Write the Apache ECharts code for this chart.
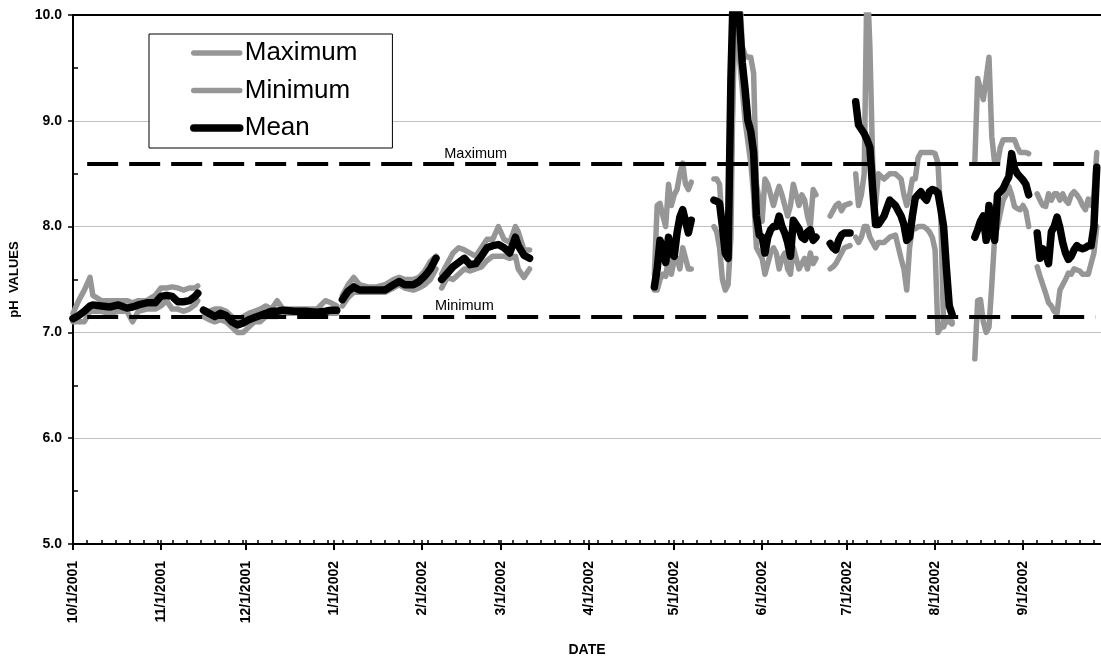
<!DOCTYPE html>
<html><head><meta charset="utf-8">
<script src="https://cdn.jsdelivr.net/npm/echarts@6/dist/echarts.min.js"></script>
<style>html,body{margin:0;padding:0;background:#fff}#c{width:1101px;height:663px}</style>
</head><body><div id="c"></div>
<script>
// ---------------- DATA ----------------
const dates = [
  // Oct-Nov 2001
  '2001-10-01','2001-10-03','2001-10-05','2001-10-07','2001-10-08','2001-10-11','2001-10-14','2001-10-17','2001-10-20','2001-10-22','2001-10-24','2001-10-27','2001-10-30','2001-11-01','2001-11-03','2001-11-05','2001-11-07','2001-11-09','2001-11-11','2001-11-13','2001-11-14','2001-11-15',
  // Nov-Dec 2001
  '2001-11-16','2001-11-18','2001-11-20','2001-11-22','2001-11-24','2001-11-26','2001-11-28','2001-11-30','2001-12-02','2001-12-04','2001-12-06','2001-12-08','2001-12-10','2001-12-12','2001-12-14','2001-12-18','2001-12-22','2001-12-26','2001-12-29','2001-12-31','2002-01-02','2002-01-03',
  // Jan-Feb 2002
  '2002-01-04','2002-01-06','2002-01-08','2002-01-10','2002-01-13','2002-01-16','2002-01-19','2002-01-22','2002-01-24','2002-01-26','2002-01-29','2002-01-31','2002-02-02','2002-02-04','2002-02-06','2002-02-07',
  // Feb-Mar 2002
  '2002-02-08','2002-02-10','2002-02-12','2002-02-14','2002-02-16','2002-02-18','2002-02-20','2002-02-22','2002-02-24','2002-02-26','2002-02-28','2002-03-02','2002-03-04','2002-03-06','2002-03-07','2002-03-09','2002-03-11','2002-03-12',
  // Apr-May 2002
  '2002-04-24','2002-04-25','2002-04-26','2002-04-27','2002-04-28','2002-04-29','2002-04-30','2002-05-01','2002-05-02','2002-05-03','2002-05-04','2002-05-05','2002-05-06','2002-05-07','2002-05-08',
  // May-Jun 2002
  '2002-05-15','2002-05-16','2002-05-17','2002-05-18','2002-05-19','2002-05-20','2002-05-21','2002-05-22','2002-05-23','2002-05-24','2002-05-25','2002-05-26','2002-05-27','2002-05-28','2002-05-29','2002-05-30','2002-05-31','2002-06-01','2002-06-02','2002-06-03','2002-06-04','2002-06-05','2002-06-06','2002-06-07','2002-06-08','2002-06-09','2002-06-10','2002-06-11','2002-06-12','2002-06-13','2002-06-14','2002-06-15','2002-06-16','2002-06-17','2002-06-18','2002-06-19','2002-06-20','2002-06-21',
  // Jun-Jul 2002
  '2002-06-25','2002-06-26','2002-06-27','2002-06-28','2002-06-29','2002-06-30','2002-07-02','2002-07-03',
  // Jul-Aug 2002
  '2002-07-04','2002-07-05','2002-07-06','2002-07-07','2002-07-08','2002-07-09','2002-07-10','2002-07-11','2002-07-12','2002-07-14','2002-07-16','2002-07-18','2002-07-20','2002-07-21','2002-07-22','2002-07-23','2002-07-24','2002-07-25','2002-07-26','2002-07-27','2002-07-28','2002-07-29','2002-07-30','2002-07-31','2002-08-01','2002-08-02','2002-08-03','2002-08-04','2002-08-05','2002-08-06','2002-08-07','2002-08-08',
  // Aug-Sep 2002
  '2002-08-15','2002-08-16','2002-08-17','2002-08-18','2002-08-19','2002-08-20','2002-08-21','2002-08-22','2002-08-23','2002-08-24','2002-08-25','2002-08-26','2002-08-27','2002-08-28','2002-08-29','2002-08-30','2002-08-31','2002-09-01','2002-09-02','2002-09-03','2002-09-04',
  // Sep 2002
  '2002-09-06','2002-09-07','2002-09-08','2002-09-09','2002-09-10','2002-09-11','2002-09-12','2002-09-13','2002-09-14','2002-09-15','2002-09-16','2002-09-17','2002-09-18','2002-09-19','2002-09-20','2002-09-21','2002-09-22','2002-09-23','2002-09-24','2002-09-25','2002-09-26','2002-09-27'
];
const maxValues = [
  7.18,7.30,7.40,7.52,7.35,7.30,7.30,7.30,7.30,7.28,7.30,7.30,7.35,7.42,7.42,7.43,7.42,7.40,7.42,7.42,7.44,null,
  7.22,7.20,7.22,7.22,7.20,7.15,7.12,7.15,7.18,7.20,7.22,7.25,7.22,7.30,7.22,7.22,7.22,7.22,7.30,7.28,7.25,null,
  7.35,7.45,7.52,7.45,7.43,7.43,7.45,7.50,7.52,7.50,7.50,7.52,7.58,7.67,7.72,null,
  7.55,7.65,7.75,7.80,7.78,7.75,7.72,7.80,7.88,7.88,8.00,7.88,7.85,8.00,7.95,7.78,7.78,null,
  7.55,8.20,8.22,8.10,8.00,8.40,8.20,8.30,8.35,8.50,8.60,8.40,8.35,8.42,null,
  8.45,8.45,8.40,8.00,7.80,7.90,8.50,9.50,10.30,10.30,9.70,9.62,9.60,9.60,9.45,8.40,8.25,8.05,8.45,8.40,8.30,8.20,8.30,8.38,8.30,8.20,8.10,8.20,8.40,8.30,8.20,8.30,8.25,8.10,8.00,8.35,8.30,null,
  8.10,8.15,8.20,8.22,8.15,8.20,8.22,null,
  8.50,8.20,8.30,8.50,10.40,9.70,8.60,8.20,8.50,8.45,8.50,8.50,8.45,8.30,8.20,8.30,8.45,8.45,8.65,8.70,8.70,8.70,8.70,8.70,8.69,8.60,8.10,7.05,7.12,7.12,7.10,null,
  8.60,9.40,9.30,9.20,9.40,9.60,8.85,8.60,8.60,8.75,8.82,8.82,8.82,8.82,8.82,8.75,8.70,8.70,8.70,8.69,null,
  8.31,8.25,8.20,8.19,8.31,8.25,8.31,8.31,8.25,8.31,8.25,8.22,8.30,8.33,8.30,8.26,8.20,8.16,8.26,8.20,8.30,8.70
];
const minValues = [
  7.10,7.10,7.10,7.20,7.20,7.20,7.18,7.20,7.20,7.10,7.20,7.22,7.22,7.25,7.30,7.22,7.22,7.20,7.22,7.26,7.30,null,
  7.15,7.12,7.10,7.12,7.10,7.05,7.00,7.00,7.05,7.10,7.10,7.15,7.15,7.15,7.18,7.18,7.18,7.17,7.18,7.18,7.18,null,
  7.25,7.33,7.38,7.38,7.38,7.38,7.38,7.42,7.45,7.42,7.40,7.42,7.45,7.50,7.60,null,
  7.42,7.52,7.50,7.55,7.60,7.58,7.60,7.62,7.68,7.72,7.72,7.72,7.70,7.72,7.60,7.52,7.60,null,
  7.40,7.40,7.50,7.55,7.53,7.70,7.55,7.69,7.70,7.60,7.80,7.70,7.60,7.60,null,
  8.00,7.95,7.80,7.50,7.40,7.45,7.90,9.90,10.10,9.60,9.30,9.00,8.80,8.60,8.30,7.80,7.75,7.70,7.55,7.65,7.75,7.80,7.75,7.60,7.70,7.75,7.60,7.55,7.80,7.70,7.60,7.65,7.70,7.60,7.75,7.65,7.70,null,
  7.60,7.62,7.65,7.70,7.75,7.80,7.82,null,
  7.90,7.85,7.90,8.00,8.00,7.90,7.85,7.80,7.85,7.85,7.90,7.92,7.70,7.60,7.40,7.80,8.00,7.98,8.00,8.00,8.00,7.98,7.95,7.90,7.78,7.00,7.05,7.10,7.10,7.10,7.08,null,
  6.75,7.30,7.31,7.10,7.00,7.05,7.45,7.90,8.00,8.13,8.25,8.30,8.38,8.30,8.19,8.17,8.16,8.20,8.15,8.00,null,
  7.62,7.53,7.45,7.37,7.28,7.25,7.20,7.18,7.40,7.45,7.50,7.56,7.55,7.60,7.59,7.58,7.55,7.55,7.55,7.65,7.75,8.00
];
const meanValues = [
  7.13,7.16,7.20,7.25,7.26,7.25,7.24,7.26,7.23,7.24,7.26,7.28,7.28,7.34,7.35,7.34,7.29,7.29,7.30,7.34,7.37,null,
  7.21,7.18,7.15,7.18,7.16,7.10,7.07,7.09,7.12,7.14,7.16,7.18,7.20,7.20,7.21,7.20,7.20,7.19,7.20,7.21,7.21,null,
  7.31,7.39,7.43,7.40,7.40,7.40,7.40,7.45,7.48,7.45,7.45,7.48,7.53,7.60,7.70,null,
  7.50,7.56,7.62,7.66,7.70,7.64,7.65,7.72,7.80,7.82,7.83,7.80,7.75,7.90,7.82,7.73,7.70,null,
  7.43,7.60,7.87,7.80,7.66,7.90,7.75,7.72,7.94,8.09,8.16,8.05,7.94,8.06,null,
  8.25,8.24,8.22,8.00,7.75,7.70,9.40,10.40,10.40,9.95,9.55,9.30,9.00,8.90,8.70,8.10,7.92,7.90,7.75,7.90,7.97,8.00,8.00,8.10,8.00,7.94,7.85,7.72,8.06,8.02,7.98,7.90,7.88,7.95,7.97,7.87,7.90,null,
  7.84,7.80,7.78,7.87,7.92,7.94,7.94,null,
  9.18,8.96,8.92,8.88,8.82,8.75,8.35,8.02,8.02,8.10,8.25,8.20,8.10,8.02,7.87,7.90,8.10,8.27,8.30,8.33,8.28,8.25,8.33,8.35,8.34,8.32,8.17,8.00,7.60,7.25,7.17,null,
  7.90,7.97,8.05,8.10,7.87,8.20,7.95,7.87,8.30,8.33,8.36,8.42,8.47,8.69,8.55,8.50,8.47,8.44,8.40,8.30,null,
  7.94,7.70,7.79,7.75,7.65,7.95,8.00,8.09,7.99,7.85,7.75,7.69,7.72,7.78,7.82,7.80,7.79,7.80,7.82,7.82,8.00,8.56
];
const seriesNames = ['Maximum','Minimum','Mean'];
const limitValues = [8.59, 7.15];
const limitNames = ['Maximum','Minimum'];
const limitSpan = ['2001-10-06','2002-09-26T12:00'];
const limitLabelDates = ['2002-02-20','2002-02-16'];
const monthTicks = ['2001-10-01','2001-11-01','2001-12-01','2002-01-01','2002-02-01','2002-03-01','2002-04-01','2002-05-01','2002-06-01','2002-07-01','2002-08-01','2002-09-01'];
const axisRange = ['2001-10-01','2002-09-28T12:00'];

// ---------------- HELPERS ----------------
function ts(s){ return Date.parse(s.length === 10 ? s + 'T00:00:00Z' : s + ':00Z'); }
function fmt(v){ const d = new Date(v); return (d.getUTCMonth()+1) + '/' + d.getUTCDate() + '/' + d.getUTCFullYear(); }
function pairs(vals){ return dates.map((d,i)=>[ts(d), vals[i]]); }
const DAY = 86400000;
const tickTimes = monthTicks.map(ts);
const spanDays = (ts(axisRange[1]) - ts(axisRange[0])) / DAY;
const minorTicks = [];
for (let d = 5; d < spanDays; d += 5) minorTicks.push(d);
tickTimes.forEach(t => minorTicks.push(Math.round((t - ts(axisRange[0]))/DAY)));

const FONT = 'Liberation Sans, Arial, sans-serif';
const GRAY = '#969696';

const chart = echarts.init(document.getElementById('c'), null, {renderer:'canvas'});
chart.setOption({
  animation: false,
  backgroundColor: '#ffffff',
  grid: { left: 73, top: 15, right: 0, bottom: 119 },
  legend: {
    data: seriesNames,
    orient: 'vertical', left: 149, top: 34,
    itemWidth: 46, itemHeight: 30, itemGap: 3.5,
    padding: [2, 35, 3, 41],
    borderColor: '#000', borderWidth: 1, backgroundColor: '#fff',
    selectedMode: false,
    itemStyle: { opacity: 0 },
    lineStyle: { width: 'inherit', cap: 'round' },
    textStyle: { fontFamily: FONT, fontSize: 26, color: '#000', lineHeight: 26, padding: [8,0,0,0] }
  },
  xAxis: [
    {
      type: 'value', position: 'bottom',
      min: ts(axisRange[0]), max: ts(axisRange[1]),
      name: 'DATE', nameLocation: 'middle', nameGap: 99,
      nameTextStyle: { fontFamily: FONT, fontWeight: 'bold', fontSize: 14, color: '#000' },
      axisLine: { show: true, onZero: false, lineStyle: { color: '#000', width: 2 } },
      axisTick: { show: true, inside: false, length: 6, customValues: tickTimes, lineStyle: { color: '#000', width: 2 } },
      axisLabel: { show: true, rotate: 90, margin: 17, customValues: tickTimes, formatter: fmt,
        fontFamily: FONT, fontWeight: 'bold', fontSize: 14, color: '#000' },
      splitLine: { show: false }
    },
    {
      type: 'value', position: 'bottom', min: 0, max: spanDays,
      axisLine: { show: false },
      axisTick: { show: true, inside: true, length: 4, customValues: minorTicks, lineStyle: { color: '#000', width: 1.5 } },
      axisLabel: { show: false, customValues: minorTicks },
      splitLine: { show: false }
    },
    {
      type: 'value', position: 'top', min: 0, max: 1,
      axisLine: { show: true, lineStyle: { color: '#000', width: 2 } },
      axisTick: { show: false }, axisLabel: { show: false }, splitLine: { show: false }
    }
  ],
  yAxis: [
    {
      type: 'value', position: 'left', min: 5, max: 10, interval: 1,
      name: 'pH  VALUES', nameLocation: 'middle', nameGap: 52,
      nameTextStyle: { fontFamily: FONT, fontWeight: 'bold', fontSize: 13, color: '#000' },
      axisLine: { show: true, lineStyle: { color: '#000', width: 2 } },
      axisTick: { show: true, inside: false, length: 5, lineStyle: { color: '#000', width: 1.5 } },
      axisLabel: { margin: 11, formatter: v => v.toFixed(1), fontFamily: FONT, fontWeight: 'bold', fontSize: 14, color: '#000' },
      splitLine: { show: true, lineStyle: { color: '#c0c0c0', width: 1.2 } }
    },
    {
      type: 'value', position: 'left', min: 5, max: 10, interval: 0.5,
      axisLine: { show: false },
      axisTick: { show: true, inside: true, length: 5, customValues: [5.5,6.5,7.5,8.5,9.5], lineStyle: { color: '#000', width: 1.5 } },
      axisLabel: { show: false },
      splitLine: { show: false }
    }
  ],
  series: [
    { name: seriesNames[0], type: 'line', xAxisIndex: 0, yAxisIndex: 0, data: pairs(maxValues),
      symbol: 'none', showSymbol: false, connectNulls: false, z: 2,
      itemStyle: { color: GRAY }, lineStyle: { color: GRAY, width: 5.5, cap: 'round', join: 'round' } },
    { name: seriesNames[1], type: 'line', xAxisIndex: 0, yAxisIndex: 0, data: pairs(minValues),
      symbol: 'none', showSymbol: false, connectNulls: false, z: 2,
      itemStyle: { color: GRAY }, lineStyle: { color: GRAY, width: 5.5, cap: 'round', join: 'round' } },
    { name: 'limits', type: 'line', xAxisIndex: 0, yAxisIndex: 0, data: [], z: 3, silent: true,
      markLine: {
        silent: true, symbol: ['none','none'], animation: false,
        lineStyle: { color: '#000', width: 4, type: [31, 11] },
        label: { show: false },
        data: limitValues.map(v => [{ coord: [ts(limitSpan[0]), v] }, { coord: [ts(limitSpan[1]), v] }])
      },
      markPoint: {
        silent: true, symbol: 'circle', symbolSize: 0, animation: false,
        itemStyle: { color: 'rgba(0,0,0,0)' },
        label: { show: true, position: 'top', distance: 3, formatter: '{b}', fontFamily: FONT, fontSize: 14.5, color: '#000' },
        data: limitValues.map((v,i) => ({ name: limitNames[i], coord: [ts(limitLabelDates[i]), v] }))
      }
    },
    { name: seriesNames[2], type: 'line', xAxisIndex: 0, yAxisIndex: 0, data: pairs(meanValues),
      symbol: 'none', showSymbol: false, connectNulls: false, z: 4,
      itemStyle: { color: '#000' }, lineStyle: { color: '#000', width: 7.5, cap: 'round', join: 'round' } }
  ]
});
</script>
</body></html>
